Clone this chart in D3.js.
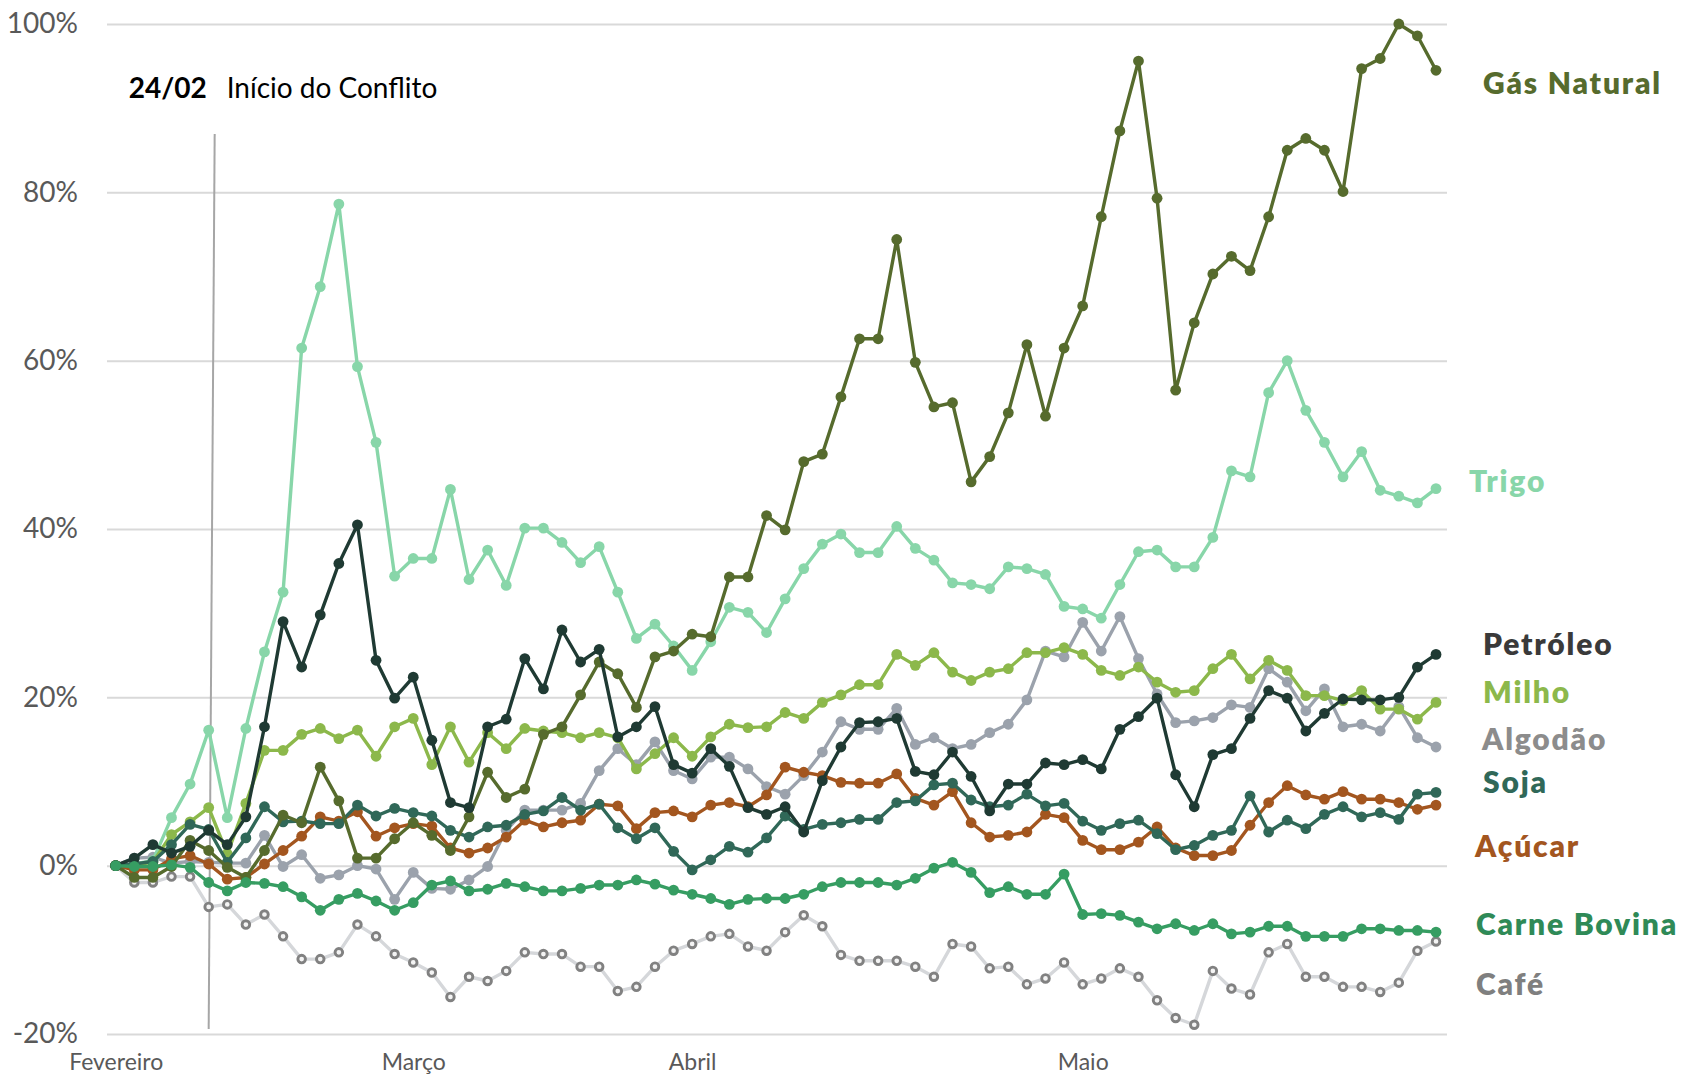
<!DOCTYPE html>
<html lang="pt-BR">
<head>
<meta charset="utf-8">
<title>Commodities desde fevereiro</title>
<script src="https://cdn.jsdelivr.net/npm/d3@7"></script>
<style>
  body { margin: 0; background: #fff; }
  text { font-family: Lato, 'Open Sans', sans-serif; }
</style>
</head>
<body>
<div id="chart"></div>
<script>
// month labels sit on these point indices
const monthLabels = ['Fevereiro', 'Março', 'Abril', 'Maio'];
const monthIndex = [0, 16, 31, 52];
const yTicks = [-20, 0, 20, 40, 60, 80, 100];
const conflictIndex = 5;

// variação acumulada (%) desde o início de fevereiro
const gasNatural = [0, -1.4, -1.4, -0.1, 3.0, 1.8, -0.2, -1.4, 1.8, 6.0, 5.1, 11.7, 7.7, 0.9, 0.9, 3.2, 5.1, 3.6, 1.8, 5.8,
  11.1, 8.1, 9.1, 15.6, 16.5, 20.3, 24.2, 22.8, 18.8, 24.8, 25.5, 27.5, 27.2, 34.3, 34.3, 41.6, 39.9, 48.0, 48.9, 55.7,
  62.6, 62.6, 74.4, 59.8, 54.5, 55.0, 45.6, 48.6, 53.8, 61.9, 53.4, 61.5, 66.5, 77.1, 87.3, 95.6, 79.3, 56.5, 64.5, 70.3,
  72.4, 70.7, 77.1, 85.0, 86.4, 85.0, 80.1, 94.7, 95.9, 100.0, 98.6, 94.5];
const trigo = [0, 0.2, 0.6, 5.7, 9.7, 16.1, 5.7, 16.3, 25.4, 32.5, 61.5, 68.8, 78.6, 59.3, 50.3, 34.4, 36.5, 36.5, 44.7, 34.0,
  37.5, 33.3, 40.1, 40.1, 38.4, 36.0, 37.9, 32.5, 27.0, 28.7, 26.1, 23.2, 26.6, 30.7, 30.1, 27.7, 31.7, 35.3, 38.2, 39.4,
  37.2, 37.2, 40.3, 37.7, 36.3, 33.6, 33.4, 32.9, 35.5, 35.3, 34.6, 30.8, 30.5, 29.4, 33.4, 37.3, 37.5, 35.5, 35.5, 39.0,
  46.9, 46.2, 56.2, 60.0, 54.1, 50.3, 46.2, 49.2, 44.6, 43.9, 43.1, 44.8];
const petroleo = [0, 0.9, 2.5, 1.5, 2.3, 4.2, 2.5, 5.8, 16.5, 29.0, 23.6, 29.8, 35.9, 40.5, 24.4, 19.9, 22.4, 14.9, 7.5, 6.9,
  16.5, 17.4, 24.6, 21.0, 28.0, 24.2, 25.7, 15.3, 16.5, 18.9, 12.0, 11.0, 13.9, 11.8, 6.9, 6.1, 7.0, 4.0, 10.1, 14.1,
  17.0, 17.1, 17.5, 11.2, 10.8, 13.5, 10.6, 6.5, 9.7, 9.7, 12.2, 12.0, 12.6, 11.5, 16.2, 17.7, 19.9, 10.8, 7.0, 13.2,
  13.9, 17.5, 20.8, 19.9, 16.0, 18.1, 19.8, 19.7, 19.7, 20.0, 23.6, 25.1];
const milho = [0, 0.1, 0.4, 3.7, 5.2, 6.9, 1.4, 7.4, 13.7, 13.7, 15.6, 16.3, 15.1, 16.1, 13.0, 16.5, 17.5, 12.0, 16.5, 12.3,
  15.8, 13.9, 16.3, 16.0, 15.8, 15.2, 15.8, 15.2, 11.5, 13.3, 15.2, 13.0, 15.3, 16.8, 16.4, 16.5, 18.2, 17.5, 19.4, 20.3,
  21.5, 21.5, 25.1, 23.8, 25.3, 23.0, 22.0, 23.0, 23.4, 25.3, 25.3, 25.9, 25.1, 23.2, 22.6, 23.6, 21.8, 20.6, 20.8, 23.4,
  25.1, 22.2, 24.4, 23.2, 20.2, 20.2, 19.6, 20.8, 18.6, 18.6, 17.4, 19.4];
const algodao = [0, 0.9, 1.0, 0.3, 0.5, 0.4, 0.3, 0.3, 3.6, -0.1, 1.3, -1.5, -1.1, 0, -0.4, -4.0, -0.8, -2.7, -2.8, -1.7,
  -0.1, 4.2, 6.6, 6.6, 6.6, 7.4, 11.3, 13.9, 12.0, 14.7, 11.3, 10.3, 12.9, 12.9, 11.5, 9.4, 8.5, 10.7, 13.5, 17.1,
  16.2, 16.2, 18.7, 14.4, 15.2, 13.9, 14.4, 15.8, 16.8, 19.7, 25.5, 24.8, 28.9, 25.5, 29.6, 24.6, 20.4, 17.0, 17.2, 17.6,
  19.1, 18.8, 23.4, 21.8, 18.4, 21.0, 16.5, 16.8, 16.0, 18.9, 15.2, 14.1];
const soja = [0, 0.2, 0.5, 2.5, 4.9, 4.3, 0.4, 3.3, 7.0, 5.2, 5.3, 5.0, 5.0, 7.2, 5.9, 6.8, 6.3, 5.9, 4.2, 3.4,
  4.6, 4.8, 6.1, 6.5, 8.1, 6.6, 7.3, 4.5, 3.2, 4.5, 1.7, -0.5, 0.7, 2.3, 1.6, 3.3, 5.9, 4.3, 4.9, 5.1,
  5.5, 5.5, 7.5, 7.7, 9.6, 9.8, 7.8, 7.0, 7.2, 8.5, 7.1, 7.4, 5.3, 4.2, 5.0, 5.4, 3.8, 1.9, 2.4, 3.6,
  4.2, 8.3, 4.0, 5.4, 4.4, 6.1, 7.0, 5.8, 6.3, 5.5, 8.5, 8.7];
const acucar = [0, -0.5, -0.5, 0.8, 1.2, 0.2, -1.6, -1.4, 0.2, 1.8, 3.5, 5.8, 5.3, 6.4, 3.5, 4.5, 5.0, 4.7, 2.1, 1.5,
  2.1, 3.4, 5.4, 4.6, 5.1, 5.4, 7.3, 7.1, 4.4, 6.3, 6.5, 5.8, 7.2, 7.5, 7.0, 8.4, 11.7, 11.1, 10.7, 9.9,
  9.8, 9.8, 10.9, 8.0, 7.2, 8.8, 5.1, 3.4, 3.6, 4.0, 6.1, 5.7, 3.0, 1.9, 1.9, 2.8, 4.6, 2.1, 1.2, 1.2,
  1.8, 4.8, 7.5, 9.5, 8.4, 7.9, 8.8, 7.9, 7.9, 7.5, 6.7, 7.2];
const carneBovina = [0, -0.1, -0.1, 0.1, -0.2, -2.0, -3.0, -2.0, -2.1, -2.5, -3.7, -5.3, -4.0, -3.3, -4.2, -5.3, -4.4, -2.3, -1.8, -3.0,
  -2.8, -2.1, -2.5, -3.0, -3.0, -2.7, -2.3, -2.3, -1.7, -2.2, -2.9, -3.4, -3.9, -4.6, -4.0, -3.9, -3.9, -3.4, -2.5, -2.0,
  -2.0, -2.0, -2.3, -1.5, -0.3, 0.4, -0.8, -3.2, -2.5, -3.4, -3.4, -1.0, -5.8, -5.7, -5.9, -6.7, -7.5, -6.9, -7.7, -6.9,
  -8.1, -7.9, -7.2, -7.2, -8.4, -8.4, -8.4, -7.5, -7.5, -7.7, -7.7, -7.9];
const cafe = [0, -2.0, -2.0, -1.3, -1.3, -4.9, -4.6, -7.0, -5.8, -8.4, -11.1, -11.1, -10.3, -7.0, -8.4, -10.5, -11.5, -12.7, -15.6, -13.2,
  -13.7, -12.5, -10.3, -10.5, -10.5, -12.0, -12.0, -14.9, -14.4, -12.0, -10.1, -9.3, -8.4, -8.1, -9.6, -10.1, -7.9, -5.9, -7.2, -10.6,
  -11.3, -11.3, -11.3, -12.0, -13.2, -9.3, -9.6, -12.2, -12.0, -14.1, -13.4, -11.5, -14.1, -13.4, -12.2, -13.2, -16.0, -18.1, -18.9, -12.5,
  -14.6, -15.3, -10.3, -9.3, -13.2, -13.2, -14.4, -14.4, -15.0, -13.9, -10.1, -9.0];

// drawing order: first drawn sits underneath
const series = [
  { name: 'Café', values: cafe, line: '#d5d7da', dot: '#818181', label: '#7f7f7f', labelX: 1476, labelY: 995, hollow: true },
  { name: 'Algodão', values: algodao, line: '#9ba2ac', dot: '#9ba2ac', label: '#8c8c8c', labelX: 1482, labelY: 750 },
  { name: 'Trigo', values: trigo, line: '#88d6a9', dot: '#88d6a9', label: '#88d6a9', labelX: 1469, labelY: 492 },
  { name: 'Milho', values: milho, line: '#8cb84b', dot: '#8cb84b', label: '#8cb84b', labelX: 1483, labelY: 703 },
  { name: 'Açúcar', values: acucar, line: '#a3561f', dot: '#a3561f', label: '#a3561f', labelX: 1475, labelY: 857 },
  { name: 'Soja', values: soja, line: '#306858', dot: '#306858', label: '#306858', labelX: 1483, labelY: 793 },
  { name: 'Gás Natural', values: gasNatural, line: '#566b2d', dot: '#566b2d', label: '#566b2d', labelX: 1483, labelY: 94 },
  { name: 'Petróleo', values: petroleo, line: '#1f3a33', dot: '#1f3a33', label: '#3a3a3a', labelX: 1483, labelY: 655 },
  { name: 'Carne Bovina', values: carneBovina, line: '#369d62', dot: '#369d62', label: '#2f8a57', labelX: 1476, labelY: 935 },
];

const svgWidth = 1681;
const svgHeight = 1076;
const gridLeft = 107;
const gridRight = 1447;

const svg = d3
  .select('#chart')
  .append('svg')
  .attr('width', svgWidth)
  .attr('height', svgHeight);

const x = d3
  .scalePoint()
  .domain(d3.range(gasNatural.length))
  .range([115.7, 1436]);

const y = d3.scaleLinear().domain([-20, 100]).range([1034, 24]);

// y grid + labels
const yAxis = svg
  .append('g')
  .attr('transform', `translate(${gridLeft}, 0)`)
  .call(
    d3
      .axisLeft(y)
      .tickValues(yTicks)
      .tickSize(-(gridRight - gridLeft))
      .tickPadding(29)
      .tickFormat((d) => `${d}%`)
  );

yAxis.select('.domain').remove();
yAxis.selectAll('.tick line').attr('stroke', '#d9d9d9').attr('stroke-width', 2);
yAxis
  .selectAll('.tick text')
  .attr('fill', '#595959')
  .attr('font-size', 28)
  .attr('font-family', 'Lato, sans-serif');

// month labels
const xAxis = svg
  .append('g')
  .attr('transform', 'translate(0, 1047)')
  .call(
    d3
      .axisBottom(x)
      .tickValues(monthIndex)
      .tickSize(0)
      .tickPadding(0)
      .tickFormat((d, i) => monthLabels[i])
  );

xAxis.select('.domain').remove();
xAxis
  .selectAll('.tick text')
  .attr('fill', '#595959')
  .attr('font-size', 23)
  .attr('font-family', 'Lato, sans-serif')
  .attr('dy', null)
  .attr('y', 23);

// conflict marker
const cx = x(conflictIndex);
svg
  .append('line')
  .attr('x1', cx + 6)
  .attr('y1', 134)
  .attr('x2', cx)
  .attr('y2', 1029)
  .attr('stroke', '#a6a6a6')
  .attr('stroke-width', 2);

svg
  .append('text')
  .attr('x', cx - 2)
  .attr('y', 98)
  .attr('text-anchor', 'end')
  .attr('font-size', 28)
  .attr('font-weight', 700)
  .attr('fill', '#000')
  .text('24/02');

svg
  .append('text')
  .attr('x', cx + 18)
  .attr('y', 98)
  .attr('font-size', 28)
  .attr('fill', '#000')
  .text('Início do Conflito');

const line = d3
  .line()
  .x((d, i) => x(i))
  .y((d) => y(d));

const groups = svg
  .selectAll('.serie')
  .data(series)
  .enter()
  .append('g')
  .classed('serie', true);

groups
  .append('path')
  .attr('d', (s) => line(s.values))
  .attr('fill', 'none')
  .attr('stroke', (s) => s.line)
  .attr('stroke-width', 3.4)
  .attr('stroke-linejoin', 'round');

groups.each(function (s) {
  d3.select(this)
    .selectAll('circle')
    .data(s.values)
    .enter()
    .append('circle')
    .attr('cx', (d, i) => x(i))
    .attr('cy', (d) => y(d))
    .attr('r', s.hollow ? 3.8 : 5.4)
    .attr('fill', s.hollow ? '#f4f4f4' : s.dot)
    .attr('stroke', s.hollow ? s.dot : 'none')
    .attr('stroke-width', s.hollow ? 2.9 : 0);
});

groups
  .append('text')
  .attr('x', (s) => s.labelX)
  .attr('y', (s) => s.labelY)
  .attr('font-size', 30)
  .attr('font-weight', 800)
  .attr('letter-spacing', 1.8)
  .attr('fill', (s) => s.label)
  .text((s) => s.name);
</script>
</body>
</html>
